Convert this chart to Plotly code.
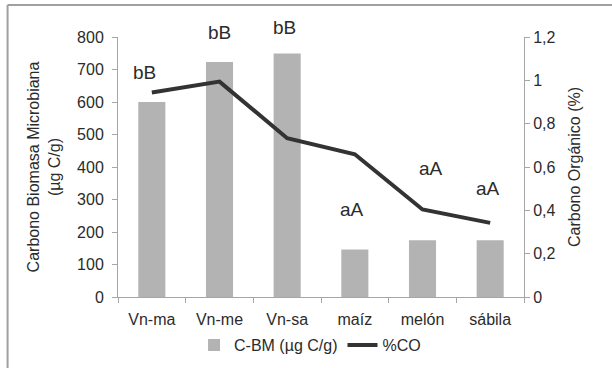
import plotly.graph_objects as go

categories = ["Vn-ma", "Vn-me", "Vn-sa", "maíz", "melón", "sábila"]
cbm_values = [600, 723, 749, 146, 175, 175]
co_values = [0.944, 0.994, 0.733, 0.659, 0.404, 0.342]
letters = ["bB", "bB", "bB", "aA", "aA", "aA"]

FONT = "Liberation Sans, Arial, sans-serif"
TXT = "#2b2b2b"
AXC = "#a6a6a6"

fig = go.Figure()
fig.add_trace(go.Bar(
    x=categories, y=cbm_values, name="C-BM (µg C/g)",
    marker=dict(color="#b3b3b3", line=dict(width=0)),
    width=0.4, yaxis="y",
))
fig.add_trace(go.Scatter(
    x=categories, y=co_values, name="%CO", mode="lines",
    line=dict(color="#333333", width=4), yaxis="y2",
))

# label offsets (pixels) relative to each bar top
shifts_y = [30, 30, 26, 40, 72, 52]
shifts_x = [-7, 0, -3, -3, 8, -2]
for c, v, t, dy, dx in zip(categories, cbm_values, letters, shifts_y, shifts_x):
    fig.add_annotation(x=c, y=v, text=t, showarrow=False, xref="x", yref="y",
                       yshift=dy, xshift=dx,
                       font=dict(family=FONT, size=19, color=TXT))

fig.update_layout(
    width=612, height=368,
    margin=dict(l=118, r=88, t=37, b=71, autoexpand=False),
    paper_bgcolor="white", plot_bgcolor="white",
    separators=",.",
    font=dict(family=FONT, size=16, color=TXT),
    showlegend=True,
    legend=dict(orientation="h", x=0.473, xanchor="center", y=-0.185,
                yanchor="middle", font=dict(size=16, color=TXT),
                itemwidth=30, bgcolor="rgba(0,0,0,0)"),
    xaxis=dict(showline=True, linecolor=AXC, linewidth=1, ticks="outside",
               tickson="boundaries", ticklen=5, tickcolor=AXC,
               ticklabelstandoff=8,
               tickfont=dict(size=16, color=TXT), showgrid=False),
    yaxis=dict(range=[0, 800], dtick=100, showline=True, linecolor=AXC,
               linewidth=1, ticks="outside", ticklen=5, tickcolor=AXC,
               ticklabelstandoff=5,
               showgrid=False, zeroline=False,
               tickfont=dict(size=16, color=TXT),
               title=dict(text="Carbono Biomasa Microbiana<br>(µg C/g)",
                          font=dict(size=16, color=TXT), standoff=12)),
    yaxis2=dict(range=[0, 1.2], dtick=0.2, overlaying="y", side="right",
                anchor="x", showline=True, linecolor=AXC, linewidth=1,
                ticks="outside", ticklen=5, tickcolor=AXC, showgrid=False,
                zeroline=False, tickfont=dict(size=16, color=TXT),
                title=dict(text="Carbono Orgánico (%)",
                           font=dict(size=16, color=TXT), standoff=14)),
    shapes=[
        dict(type="line", xref="paper", yref="paper", x0=-0.272, x1=1.3,
             y0=1.123, y1=1.123, line=dict(color="#a0a0a0", width=2)),
        dict(type="line", xref="paper", yref="paper", x0=-0.272, x1=-0.272,
             y0=1.123, y1=-0.4, line=dict(color="#a0a0a0", width=2)),
    ],
)

fig.write_html("out.html")
